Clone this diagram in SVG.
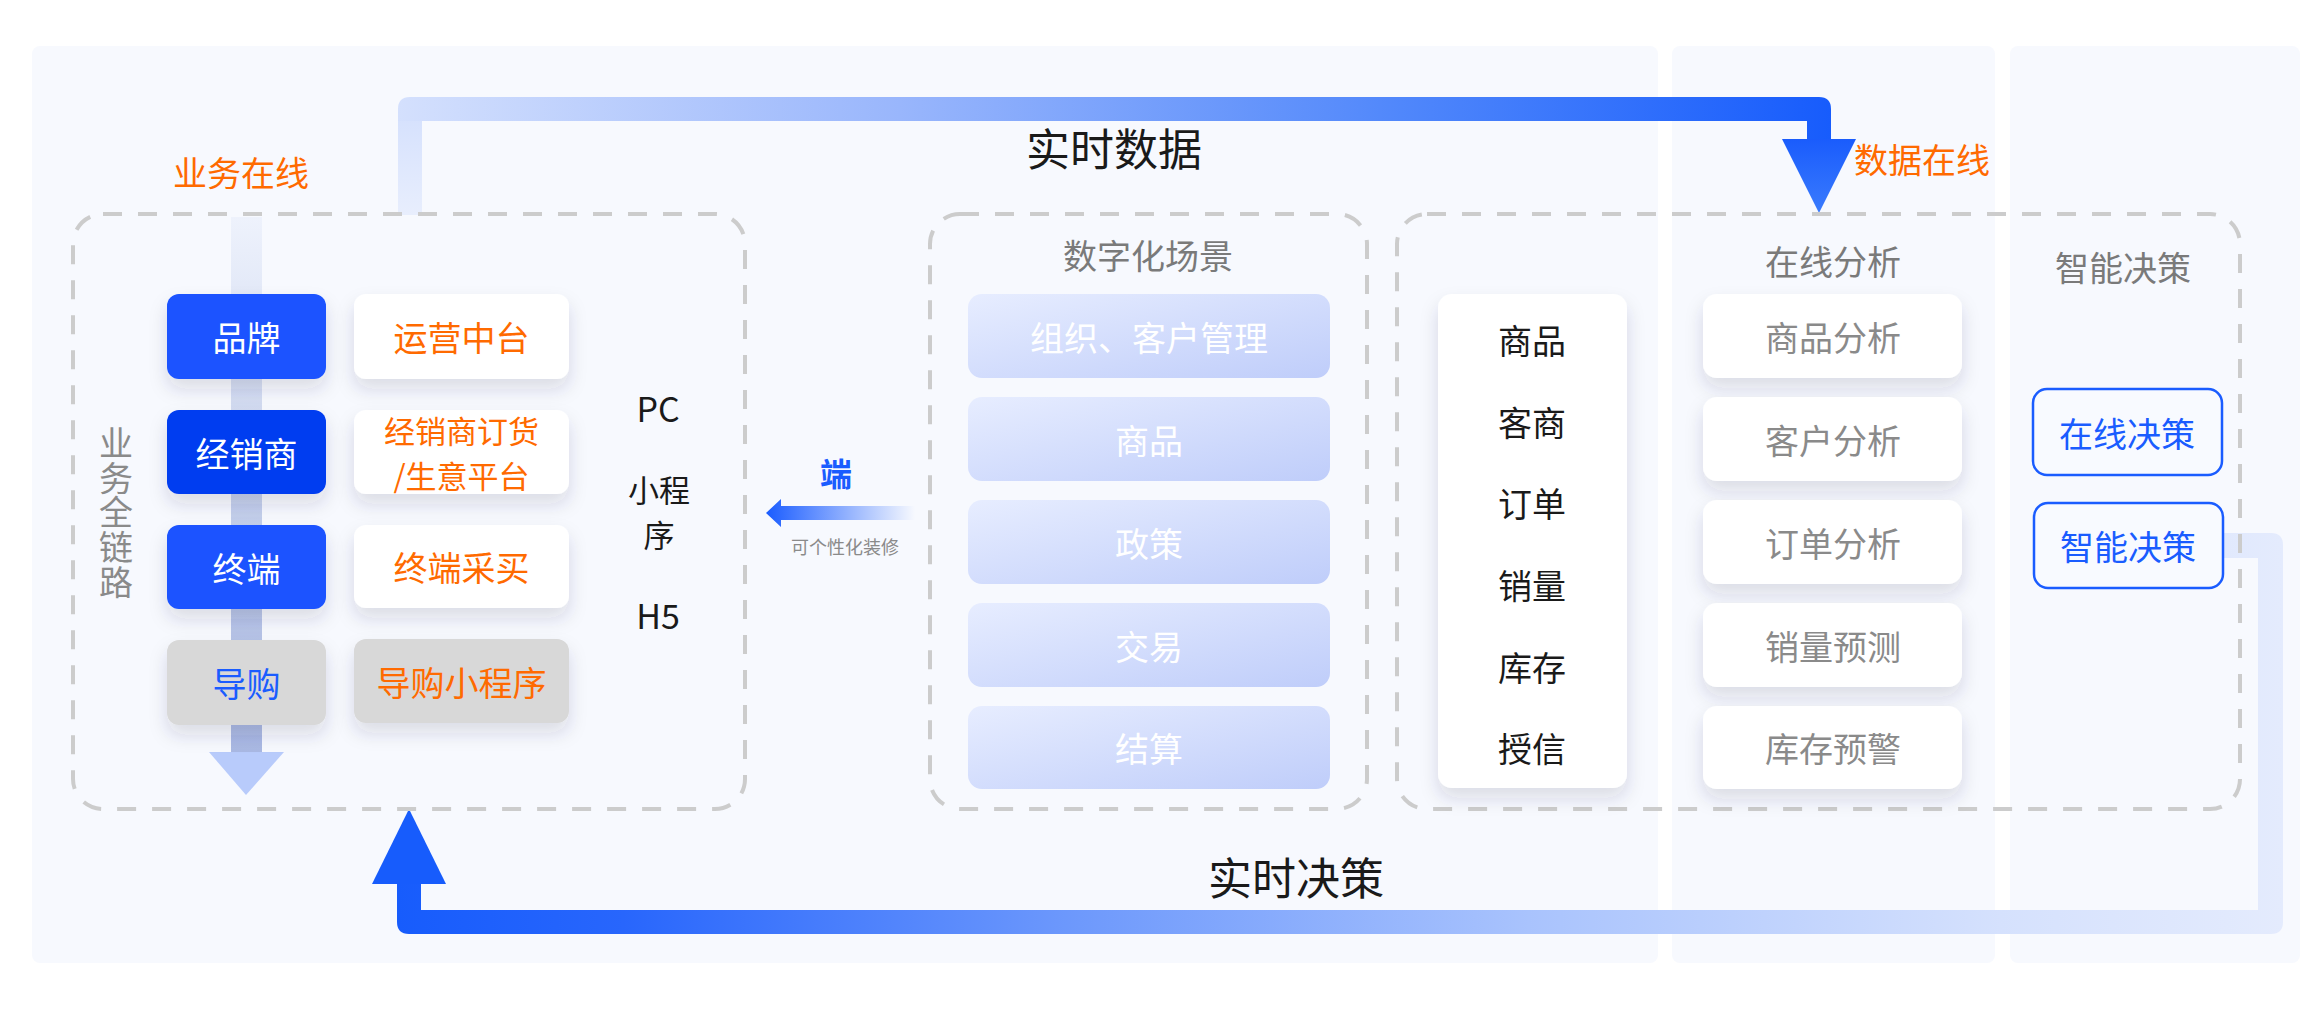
<svg xmlns="http://www.w3.org/2000/svg" width="2314" height="1020" viewBox="0 0 2314 1020">
<style>
text{font-family:"Noto Sans CJK SC","Noto Sans",sans-serif;font-size:34px;text-anchor:middle;dominant-baseline:central}
.or{fill:#ff6a00}
.gr{fill:#7a7a7a}
.lg{fill:#8a8a8a}
.wh{fill:#ffffff}
.bl{fill:#1a5cff}
.bk{fill:#1a1a1a}
.two{font-size:31px}
.vert{writing-mode:vertical-rl;text-anchor:start;letter-spacing:0.75px}
.panel{fill:#f7f9fe}
.dash{fill:none;stroke:#cccccc;stroke-width:4;stroke-dasharray:19 16}
.card{fill:#ffffff;filter:url(#sh)}
.gcard{fill:#d8d8d8;filter:url(#sh)}
.bcard{fill:#1a53ff;filter:url(#sh)}
.scene{fill:url(#sceneG)}
.dec{fill:#f8faff;stroke:#1a5cff;stroke-width:2.5}
</style>
<defs>
<filter id="sh" x="-30%" y="-30%" width="160%" height="180%">
<feDropShadow dx="0" dy="10" stdDeviation="9" flood-color="#2a3550" flood-opacity="0.14"/>
</filter>
<linearGradient id="sceneG" x1="0" y1="0" x2="1" y2="1">
<stop offset="0" stop-color="#e7edff"/>
<stop offset="1" stop-color="#bfcdfa"/>
</linearGradient>
<linearGradient id="topG" gradientUnits="userSpaceOnUse" x1="398" y1="0" x2="1831" y2="0">
<stop offset="0" stop-color="#d4e0fd"/>
<stop offset="0.35" stop-color="#99b6fc"/>
<stop offset="0.7" stop-color="#5087fb"/>
<stop offset="1" stop-color="#175cfc"/>
</linearGradient>
<linearGradient id="topV" gradientUnits="userSpaceOnUse" x1="0" y1="109" x2="0" y2="215">
<stop offset="0" stop-color="#d4e0fd"/>
<stop offset="1" stop-color="#e8eefd"/>
</linearGradient>
<linearGradient id="headG" x1="0" y1="0" x2="0" y2="1">
<stop offset="0" stop-color="#1a5cfc"/>
<stop offset="1" stop-color="#3a7bfd"/>
</linearGradient>
<linearGradient id="botG" gradientUnits="userSpaceOnUse" x1="397" y1="0" x2="2283" y2="0">
<stop offset="0" stop-color="#175cfc"/>
<stop offset="0.12" stop-color="#2866fc"/>
<stop offset="0.35" stop-color="#6b97fc"/>
<stop offset="0.6" stop-color="#a9c3fd"/>
<stop offset="0.85" stop-color="#d5e1fd"/>
<stop offset="1" stop-color="#e4ebfd"/>
</linearGradient>
<linearGradient id="flowG" gradientUnits="userSpaceOnUse" x1="0" y1="217" x2="0" y2="752">
<stop offset="0" stop-color="#eef2fc"/>
<stop offset="0.5" stop-color="#c6d1ec"/>
<stop offset="1" stop-color="#a9b8e3"/>
</linearGradient>
<linearGradient id="leftG" gradientUnits="userSpaceOnUse" x1="766" y1="0" x2="915" y2="0">
<stop offset="0" stop-color="#1a5cff"/>
<stop offset="1" stop-color="#1a5cff" stop-opacity="0"/>
</linearGradient>
</defs>

<g id="panels">
<rect class="panel" x="32" y="46" width="1626" height="917" rx="8"/>
<rect class="panel" x="1672" y="46" width="323" height="917" rx="8"/>
<rect class="panel" x="2010" y="46" width="290" height="917" rx="8"/>
</g>

<g id="connectors">
<rect x="398" y="109" width="24" height="106" fill="url(#topV)"/>
<path d="M398 121 V109 Q398 97 410 97 H1819 Q1831 97 1831 109 V140 H1807 V121 Z" fill="url(#topG)"/>
<polygon points="1782,139 1856,139 1819,213" fill="url(#headG)"/>
<path d="M2223 533 H2271 Q2283 533 2283 545 V922 Q2283 934 2271 934 H409 Q397 934 397 922 V883 H421 V910 H2258 V558 H2223 Z" fill="url(#botG)"/>
<polygon points="372,884 446,884 409,809" fill="#175cfc"/>
<rect x="231" y="217" width="31" height="536" fill="url(#flowG)"/>
<polygon points="209,752 284,752 246,795" fill="#b8cbfb"/>
<path d="M766 513 L781 499 V506 H915 V520 H781 V527 Z" fill="url(#leftG)"/>
</g>

<g id="labels">
<text x="241" y="171" class="or">业务在线</text>
<text x="1114" y="147" class="bk" style="font-size:44px">实时数据</text>
<text x="1922" y="158" class="or">数据在线</text>
<text x="1296" y="876" class="bk" style="font-size:44px">实时决策</text>
<text x="836" y="472" class="bl" style="font-size:32px;font-weight:bold">端</text>
<text x="845" y="546" class="lg" style="font-size:18px">可个性化装修</text>
</g>

<g id="box-business">
<rect class="dash" x="73" y="214" width="672" height="595" rx="30"/>
<text x="116" y="426" class="lg vert">业务全链路</text>
</g>

<g id="node-brand"><rect class="bcard" x="167" y="294" width="159" height="85" rx="12"/><text x="246.5" y="336.5" class="wh">品牌</text></g>
<g id="node-dealer"><rect class="bcard" x="167" y="410" width="159" height="84" rx="12" style="fill:#003cf0"/><text x="246.5" y="452" class="wh">经销商</text></g>
<g id="node-terminal"><rect class="bcard" x="167" y="525" width="159" height="84" rx="12"/><text x="246.5" y="567" class="wh">终端</text></g>
<g id="node-guide"><rect class="gcard" x="167" y="640" width="159" height="85" rx="12"/><text x="246.5" y="682.5" class="bl">导购</text></g>

<g id="node-ops"><rect class="card" x="354" y="294" width="215" height="85" rx="12"/><text x="461.5" y="336.5" class="or">运营中台</text></g>
<g id="node-order"><rect class="card" x="354" y="410" width="215" height="84" rx="12"/><text class="or two"><tspan x="461.5" y="429">经销商订货</tspan><tspan x="461.5" y="474">/生意平台</tspan></text></g>
<g id="node-purchase"><rect class="card" x="354" y="525" width="215" height="83" rx="12"/><text x="461.5" y="566.5" class="or">终端采买</text></g>
<g id="node-miniapp"><rect class="gcard" x="354" y="639" width="215" height="84" rx="12"/><text x="461.5" y="681" class="or">导购小程序</text></g>

<g id="channels">
<text x="658" y="407" class="bk">PC</text>
<text class="bk two"><tspan x="659" y="488">小程</tspan><tspan x="659" y="533">序</tspan></text>
<text x="658" y="614" class="bk">H5</text>
</g>

<g id="box-scenes">
<rect class="dash" x="930" y="214" width="437" height="595" rx="30"/>
<text x="1148" y="254" class="gr">数字化场景</text>
</g>
<g id="scene-org"><rect class="scene" x="968" y="294" width="362" height="84" rx="14"/><text x="1149" y="336" class="wh">组织、客户管理</text></g>
<g id="scene-goods"><rect class="scene" x="968" y="397" width="362" height="84" rx="14"/><text x="1149" y="439" class="wh">商品</text></g>
<g id="scene-policy"><rect class="scene" x="968" y="500" width="362" height="84" rx="14"/><text x="1149" y="542" class="wh">政策</text></g>
<g id="scene-trade"><rect class="scene" x="968" y="603" width="362" height="84" rx="14"/><text x="1149" y="645" class="wh">交易</text></g>
<g id="scene-settle"><rect class="scene" x="968" y="706" width="362" height="83" rx="14"/><text x="1149" y="747.5" class="wh">结算</text></g>

<g id="box-data">
<rect class="dash" x="1397" y="214" width="843" height="595" rx="30"/>
<text x="1833" y="260" class="gr">在线分析</text>
<text x="2123" y="266" class="gr">智能决策</text>
</g>

<g id="data-list">
<rect class="card" x="1438" y="294" width="189" height="494" rx="14"/>
<text x="1532" y="339" class="bk">商品</text>
<text x="1532" y="421" class="bk">客商</text>
<text x="1532" y="502" class="bk">订单</text>
<text x="1532" y="584" class="bk">销量</text>
<text x="1532" y="666" class="bk">库存</text>
<text x="1532" y="747" class="bk">授信</text>
</g>

<g id="ana-goods"><rect class="card" x="1703" y="294" width="259" height="84" rx="14"/><text x="1833" y="336" class="lg">商品分析</text></g>
<g id="ana-customer"><rect class="card" x="1703" y="397" width="259" height="84" rx="14"/><text x="1833" y="439" class="lg">客户分析</text></g>
<g id="ana-order"><rect class="card" x="1703" y="500" width="259" height="84" rx="14"/><text x="1833" y="542" class="lg">订单分析</text></g>
<g id="ana-sales"><rect class="card" x="1703" y="603" width="259" height="84" rx="14"/><text x="1833" y="645" class="lg">销量预测</text></g>
<g id="ana-stock"><rect class="card" x="1703" y="706" width="259" height="83" rx="14"/><text x="1833" y="747.5" class="lg">库存预警</text></g>

<g id="dec-online"><rect class="dec" x="2033" y="389" width="189" height="86" rx="14"/><text x="2127" y="432" class="bl">在线决策</text></g>
<g id="dec-smart"><rect class="dec" x="2034" y="503" width="189" height="85" rx="14"/><text x="2128" y="545" class="bl">智能决策</text></g>
</svg>
